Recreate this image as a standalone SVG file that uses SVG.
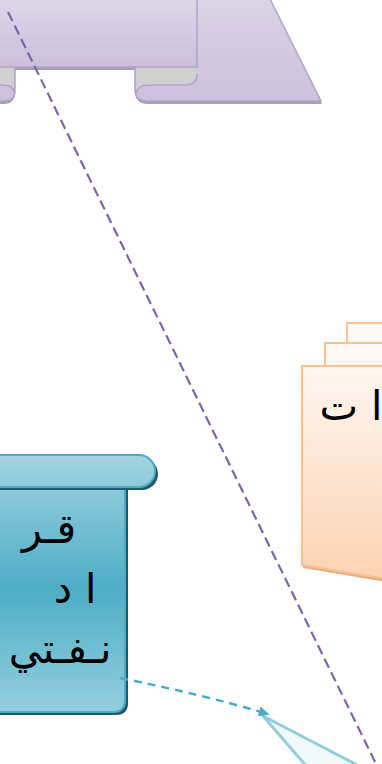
<svg xmlns="http://www.w3.org/2000/svg" width="382" height="764" viewBox="0 0 382 764">
<defs>
<linearGradient id="gPurple" x1="0" y1="0" x2="0" y2="1"><stop offset="0" stop-color="#E0D9EA"/><stop offset="1" stop-color="#CBBEDB"/></linearGradient>
<linearGradient id="gPurpleW" x1="0" y1="0" x2="0" y2="1"><stop offset="0" stop-color="#DCD4E7"/><stop offset="1" stop-color="#CCC0DB"/></linearGradient>
<linearGradient id="gBlueBody" x1="0" y1="0" x2="0" y2="1"><stop offset="0" stop-color="#8DCADA"/><stop offset="0.45" stop-color="#4EADC7"/><stop offset="1" stop-color="#93CEDD"/></linearGradient>
<linearGradient id="gBlueBar" x1="0" y1="0" x2="0" y2="1"><stop offset="0" stop-color="#A2D4E1"/><stop offset="1" stop-color="#8ECADA"/></linearGradient>
<linearGradient id="gOrange" x1="0" y1="0" x2="0" y2="1"><stop offset="0" stop-color="#FFF6F1"/><stop offset="1" stop-color="#FBD3B3"/></linearGradient>
<marker id="arrBlue" markerUnits="userSpaceOnUse" markerWidth="12" markerHeight="10" refX="2" refY="5" orient="auto"><path d="M0,0 L11,5 L0,10 Z" fill="#4BACC6"/></marker>
</defs>
<style>
.pstroke{stroke:#B1A2CC;stroke-width:1.5}
.bstroke{stroke:#4BACC6;stroke-width:2}
.ostroke{stroke:#FAC090;stroke-width:2}
.lbl{font-family:"DejaVu Sans",sans-serif;font-size:41px;fill:#000}
</style>

<g id="node-ribbon">
  <path d="M135 -5 L135 91 Q135 104 148 104 L322 104 L268 -5 Z" fill="#A69DB6"/>
  <path d="M-10 -5 L15 -5 L15 92 Q15 104 4 104 L-10 104 Z" fill="#A69DB6"/>
  <rect x="10" y="66" width="130" height="4" fill="#A69DB6"/>
  <path d="M135 -5 L135 90 Q135 101 147 101 L321 101 L268 -5 Z" fill="url(#gPurpleW)" class="pstroke"/>
  <path d="M136 67 L197 67 L197 74 Q197 85 185 85 L148 85 Q138 85 136.5 93 Z" fill="#D0D0D0"/>
  <path d="M197 74 Q197 85 185 85 L148 85 Q138 85 136.5 93" fill="none" class="pstroke"/>
  <path d="M-10 -5 L15 -5 L15 91 Q15 101 4 101 L-10 101 Z" fill="url(#gPurpleW)" class="pstroke"/>
  <path d="M-10 67 L14 67 L14 92 Q13 85 3 85 L-10 85 Z" fill="#D0D0D0"/>
  <path d="M14 92 Q13 85 3 85 L-10 85" fill="none" class="pstroke"/>
  <rect x="-10" y="-10" width="207" height="77" fill="url(#gPurple)" class="pstroke"/>
</g>

<g id="node-docs">
  <rect x="347" y="323" width="50" height="40" fill="#FFF8F3" class="ostroke"/>
  <rect x="325" y="343" width="70" height="40" fill="#FFF8F3" class="ostroke"/>
  <path d="M302 369 L392 369 L392 583 Q345 575 303 568 Z" fill="#E5AC7E"/>
  <path d="M302 366 L392 366 L392 580 Q345 572 302 565 Z" fill="url(#gOrange)" class="ostroke"/>
  <text class="lbl" x="351" y="420" text-anchor="middle">ا ت</text>
</g>

<g id="node-scroll">
  <path d="M-10 490 L128 490 L128 703 Q128 715 116 715 L-10 715 Z" fill="#215968"/>
  <path d="M-10 487 L125 487 L125 700 Q125 712 113 712 L-10 712 Z" fill="url(#gBlueBody)" class="bstroke"/>
  <path d="M-10 458 L142 458 A16 16 0 0 1 142 490 L-10 490 Z" fill="#215968"/>
  <path d="M-10 455 L139 455 A16 16 0 0 1 139 487 L-10 487 Z" fill="url(#gBlueBar)" class="bstroke"/>
  <text class="lbl" x="49" y="543" text-anchor="middle">قـر</text>
  <text class="lbl" x="75" y="603" text-anchor="middle">ا د</text>
  <text class="lbl" x="60" y="663" text-anchor="middle">نـفـتي</text>
</g>

<g id="node-triangle">
  <path d="M263 716 L308 768 L363 768 Z" fill="#F2F9FB" stroke="#92CDDC" stroke-width="3" stroke-linejoin="round"/>
</g>

<g id="connectors">
  <line x1="8" y1="12" x2="378" y2="768" stroke="#7F64A6" stroke-width="2.2" stroke-dasharray="10,5"/>
  <path d="M120 678 Q200 694 261 712" fill="none" stroke="#4BACC6" stroke-width="2.5" stroke-dasharray="8,6" marker-end="url(#arrBlue)"/>
</g>
</svg>
